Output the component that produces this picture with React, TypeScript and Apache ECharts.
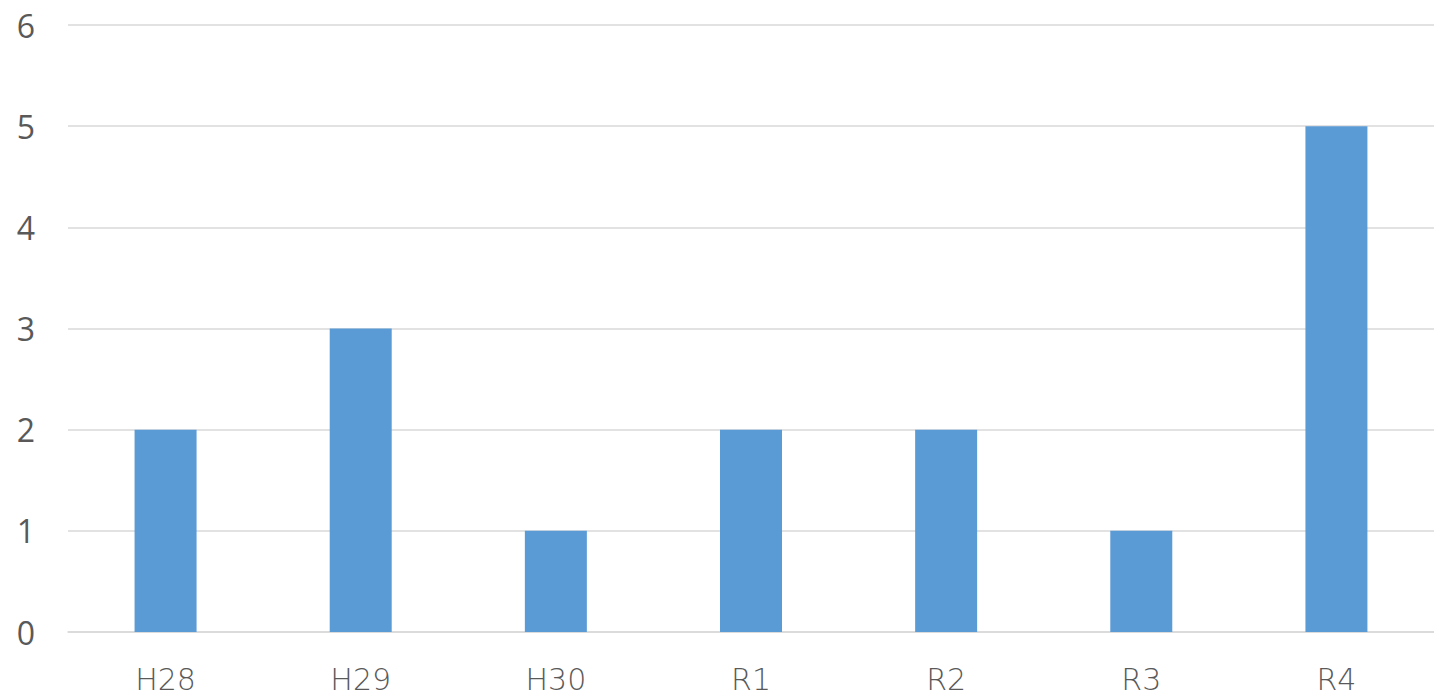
import React, { useEffect, useRef } from "react";
import * as echarts from "echarts";

const categories = ["H28", "H29", "H30", "R1", "R2", "R3", "R4"];
const values = [2, 3, 1, 2, 2, 1, 5];
const yTicks = { min: 0, max: 6, interval: 1 };

export default function App() {
  const ref = useRef<HTMLDivElement>(null);
  useEffect(() => {
    if (!ref.current) return;
    const chart = echarts.init(ref.current, undefined, { renderer: "svg" });
    chart.setOption({
      animation: false,
      backgroundColor: "#ffffff",
      grid: { left: 68, top: 25, width: 1371, height: 607, containLabel: false },
      xAxis: {
        type: "category",
        data: categories,
        axisLine: { show: true, lineStyle: { color: "#d9d9d9", width: 1.5 } },
        axisTick: { show: false },
        axisLabel: {
          color: "#595959",
          fontSize: 30,
          fontFamily: "DejaVu Sans",
          fontWeight: 300,
          margin: 32,
        },
      },
      yAxis: {
        type: "value",
        min: yTicks.min,
        max: yTicks.max,
        interval: yTicks.interval,
        axisLine: { show: false },
        axisTick: { show: false },
        splitLine: { lineStyle: { color: "#d9d9d9", width: 1.5 } },
        axisLabel: {
          color: "#595959",
          fontSize: 32,
          fontFamily: "Open Sans",
          margin: 33,
        },
      },
      series: [
        {
          type: "bar",
          data: values,
          barWidth: 62,
          itemStyle: { color: "#5b9bd5" },
        },
      ],
    });
    return () => chart.dispose();
  }, []);
  return (
    <div
      ref={ref}
      style={{ position: "absolute", left: 0, top: 0, width: 1434, height: 698 }}
    />
  );
}
